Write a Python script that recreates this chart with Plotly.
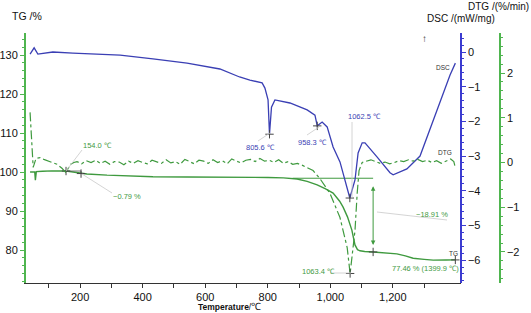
import plotly.graph_objects as go

# ---------------- data ----------------
tg_temp = [40, 50, 55, 57, 60, 80, 110, 155, 200, 222, 286, 350, 433, 542, 647, 743, 801, 850,
           894, 926, 958, 985, 1009, 1030, 1041, 1055, 1069, 1079, 1087, 1095, 1110, 1137, 1175,
           1213, 1240, 1265, 1300, 1329, 1370, 1399.9]
tg_val = [100.0, 100.1, 100.0, 97.9, 100.1, 100.2, 100.3, 100.25, 99.7, 99.5, 99.2, 99.0, 98.8,
          98.7, 98.7, 98.7, 98.6, 98.5, 98.2, 97.6, 96.7, 95.7, 94.6, 92.5, 91.0, 88.5, 85.1, 81.3,
          80.1, 79.8, 79.6, 79.5, 79.3, 79.0, 78.5, 77.9, 77.6, 77.4, 77.45, 77.46]

dsc_temp = [40, 53, 65, 113, 177, 286, 328, 433, 542, 647, 679, 710, 743, 782, 791, 801, 805.6,
            812, 823, 871, 926, 951, 958.3, 974, 990, 1009, 1031, 1054, 1062.5, 1079, 1089, 1102,
            1111, 1150, 1191, 1201, 1245, 1287, 1320, 1355, 1383, 1400]
dsc_val = [-0.06, 0.12, -0.06, 0.0, -0.03, -0.06, -0.09, -0.2, -0.32, -0.49, -0.61, -0.72, -0.81,
           -0.89, -1.04, -1.38, -2.37, -1.59, -1.38, -1.47, -1.67, -1.82, -2.13, -2.02, -2.16,
           -2.74, -3.17, -3.89, -4.21, -3.69, -2.91, -2.62, -2.62, -3.03, -3.48, -3.54, -3.37,
           -3.0, -2.2, -1.30, -0.66, -0.32]

dtg_temp = [40, 46, 50, 59, 72, 84, 97, 110, 126, 142, 154, 170, 180,
            190, 205, 220, 235, 250, 265, 280, 295, 310, 325, 340, 355, 370, 385, 400, 415, 430,
            445, 460, 475, 490, 505, 520, 535, 550, 565, 580, 595, 610, 625, 640, 655, 670, 685,
            700, 715, 730, 745, 760, 775, 790, 805, 820, 835, 850, 865, 880, 895, 913,
            945, 967, 999, 1031, 1054, 1063.4, 1079, 1086, 1092, 1102,
            1115, 1130, 1145, 1160, 1175, 1190, 1205, 1220, 1235, 1250, 1265, 1280, 1295, 1310,
            1325, 1340, 1355, 1370, 1385, 1395, 1400]
dtg_val = [1.12, 0.49, -0.11, 0.09, 0.11, 0.07, 0.04, 0.0, -0.04, -0.13, -0.22, -0.04, 0.0,
           0.02, -0.03, 0.04, 0.0, 0.05, -0.02, 0.03, -0.04, 0.02, 0.01, -0.05, 0.03, -0.02,
           0.04, 0.0, -0.03, 0.05, 0.01, -0.02, 0.06, -0.01, 0.02, -0.04, 0.07, 0.02, -0.03,
           0.05, 0.03, -0.02, 0.06, 0.0, 0.04, -0.03, 0.08, 0.03, -0.01, 0.05, 0.07, 0.02, 0.09,
           0.03, 0.05, 0.0, 0.06, -0.02, 0.02, -0.04, -0.02, -0.07,
           -0.18, -0.36, -0.69, -1.23, -1.90, -2.48, -1.52, -0.69, -0.18, 0.0,
           0.03, 0.06, 0.02, -0.02, 0.01, -0.03, 0.0, 0.04, 0.02, 0.06, 0.03, 0.07, 0.02, 0.05,
           0.0, 0.04, -0.02, 0.03, 0.08, 0.02, -0.12]

x_ticks = [200, 400, 600, 800, 1000, 1200]
x_minor = [100, 300, 500, 700, 900, 1100, 1300]

# marked points
dsc_peak_t = [805.6, 958.3, 1062.5]
dsc_peak_v = [-2.37, -2.13, -4.21]
dtg_peak_t = [1063.4]
dtg_peak_v = [-2.48]
tg_mark_t = [155, 203, 1137, 1399.9]
tg_mark_v = [100.25, 99.6, 79.5, 77.46]
step1_t = [155, 203, 203]
step1_v = [100.25, 100.25, 99.5]
step2_t = [880, 1137]
step2_v = [98.4, 98.4]

# ---------------- styling ----------------
GREEN = "#3f9a3f"
GREEN_AX = "#4fb54f"
BLUE = "#3a3fb4"
BLUE_AX = "#3b3bd0"
LEAD = "#c9c9c9"
FONT = "Liberation Sans, Arial, sans-serif"

W, H = 531, 313
L, R, T, B = 26, 31, 33, 30
PW, PH = W - L - R, H - T - B
X_END = (461 - L) / PW


def px(x):
    return (x - L) / PW


def py(y):
    return (H - B - y) / PH


fig = go.Figure()
fig.add_trace(go.Scatter(x=tg_temp, y=tg_val, mode="lines", line=dict(color=GREEN, width=1.4),
                         yaxis="y", showlegend=False, hoverinfo="skip"))
fig.add_trace(go.Scatter(x=dsc_temp, y=dsc_val, mode="lines", line=dict(color=BLUE, width=1.3),
                         yaxis="y2", showlegend=False, hoverinfo="skip"))
fig.add_trace(go.Scatter(x=dtg_temp, y=dtg_val, mode="lines",
                         line=dict(color=GREEN, width=1.2, dash="dashdot"),
                         yaxis="y3", showlegend=False, hoverinfo="skip"))
fig.add_trace(go.Scatter(x=step1_t, y=step1_v, mode="lines", line=dict(color="#555", width=0.8),
                         yaxis="y", showlegend=False, hoverinfo="skip"))
fig.add_trace(go.Scatter(x=step2_t, y=step2_v, mode="lines", line=dict(color=GREEN, width=1),
                         yaxis="y", showlegend=False, hoverinfo="skip"))
mk = dict(symbol="cross-thin", size=6, line=dict(width=1, color="#444"))
fig.add_trace(go.Scatter(x=dsc_peak_t, y=dsc_peak_v, mode="markers", marker=mk, yaxis="y2",
                         showlegend=False, hoverinfo="skip"))
fig.add_trace(go.Scatter(x=dtg_peak_t, y=dtg_peak_v, mode="markers", marker=mk, yaxis="y3",
                         showlegend=False, hoverinfo="skip"))
fig.add_trace(go.Scatter(x=tg_mark_t, y=tg_mark_v, mode="markers", marker=mk, yaxis="y",
                         showlegend=False, hoverinfo="skip"))

tickfont = dict(family=FONT, size=11, color="#111")

fig.update_layout(
    width=W, height=H,
    margin=dict(l=L, r=R, t=T, b=B, pad=0, autoexpand=False),
    paper_bgcolor="white", plot_bgcolor="white",
    font=dict(family=FONT, size=11, color="#111"),
    hovermode=False,
    xaxis=dict(domain=[0, X_END], range=[27, 1418], tickvals=x_ticks, tickformat=",",
               ticks="outside", ticklen=4, tickcolor="#333", showline=True, linecolor="#333",
               linewidth=1.2, showgrid=False, zeroline=False, tickfont=tickfont, automargin=False,
               minor=dict(tickvals=x_minor, ticks="outside", ticklen=4, tickcolor="#333")),
    yaxis=dict(range=[71.54, 135.64], tick0=0, dtick=10, ticks="outside", ticklen=4,
               tickcolor=GREEN_AX, showline=True, linecolor=GREEN_AX, linewidth=2,
               showgrid=False, zeroline=False, tickfont=tickfont, automargin=False,
               minor=dict(dtick=2, ticks="outside", ticklen=2, tickcolor=GREEN_AX)),
    yaxis2=dict(overlaying="y", anchor="free", position=X_END, side="right",
                range=[-6.66, 0.548], tick0=0, dtick=1, ticks="outside", ticklen=4,
                tickcolor=BLUE_AX, showline=True, linecolor=BLUE_AX, linewidth=1.5,
                showgrid=False, zeroline=False, tickfont=tickfont, automargin=False,
                minor=dict(dtick=0.2, ticks="outside", ticklen=2, tickcolor=BLUE_AX)),
    yaxis3=dict(overlaying="y", anchor="free", position=1.0, side="right",
                range=[-2.693, 2.894], tick0=0, dtick=1, ticks="outside", ticklen=4,
                tickcolor=GREEN_AX, showline=True, linecolor=GREEN_AX, linewidth=1.5,
                showgrid=False, zeroline=False, tickfont=tickfont, automargin=False,
                minor=dict(dtick=0.2, ticks="outside", ticklen=2, tickcolor=GREEN_AX)),
)

ann = []


def text(s, x, y, color, size=7.5, xanchor="left", pad=1):
    ann.append(dict(text=s, x=px(x), y=py(y), xref="paper", yref="paper", showarrow=False,
                    xanchor=xanchor, yanchor="middle", borderpad=pad,
                    font=dict(family=FONT, size=size, color=color)))


text("TG /%", 11, 16, "#111", 10.5, pad=0)
text("DSC /(mW/mg)", 426, 18.5, "#111", 10, pad=0)
text("DTG /(%/min)", 530, 6.5, "#111", 10, xanchor="right", pad=0)
text("↑", 420, 38, "#333", 10)
text("<b>Temperature</b>/<span style='font-size:10px'>℃</span>", 196, 306, "#111", 8.5)

text("154.0 ℃", 81, 145, GREEN)
text("−0.79 %", 111, 196, GREEN)
text("805.6 ℃", 244, 147, BLUE)
text("958.3 ℃", 296, 142, BLUE)
text("1062.5 ℃", 346, 117, BLUE)
text("1063.4 ℃", 300, 271, GREEN)
text("−18.91 %", 414, 214, GREEN)
text("77.46 % (1399.9 ℃)", 390, 268, GREEN)
text("TG", 447, 253, "#333", 6.5)
text("DSC", 434, 67, "#333", 6.5)
text("DTG", 436, 152, "#333", 6.5)

# double arrow for the -18.91 % step
ann.append(dict(x=1137, y=81.3, ax=1137, ay=96.7, xref="x", yref="y", axref="x", ayref="y",
                text="", showarrow=True, arrowhead=2, startarrowhead=2, arrowside="end+start",
                arrowsize=0.9, arrowwidth=1, arrowcolor=GREEN))
fig.update_layout(annotations=ann)

shapes = []
for (x0, y0, x1, y1) in [(66, 171, 82, 150), (82, 174, 112, 193), (270, 133, 258, 141),
                         (319, 127, 307, 135), (352, 122, 352, 198), (330, 273, 351, 273),
                         (377, 212, 447, 220)]:
    shapes.append(dict(type="line", xref="paper", yref="paper", x0=px(x0), y0=py(y0),
                       x1=px(x1), y1=py(y1), line=dict(color=LEAD, width=0.8)))
fig.update_layout(shapes=shapes)

fig.write_html("out.html", config={"displayModeBar": False},
               post_script="document.body.style.margin='0';document.body.style.overflow='hidden';")
